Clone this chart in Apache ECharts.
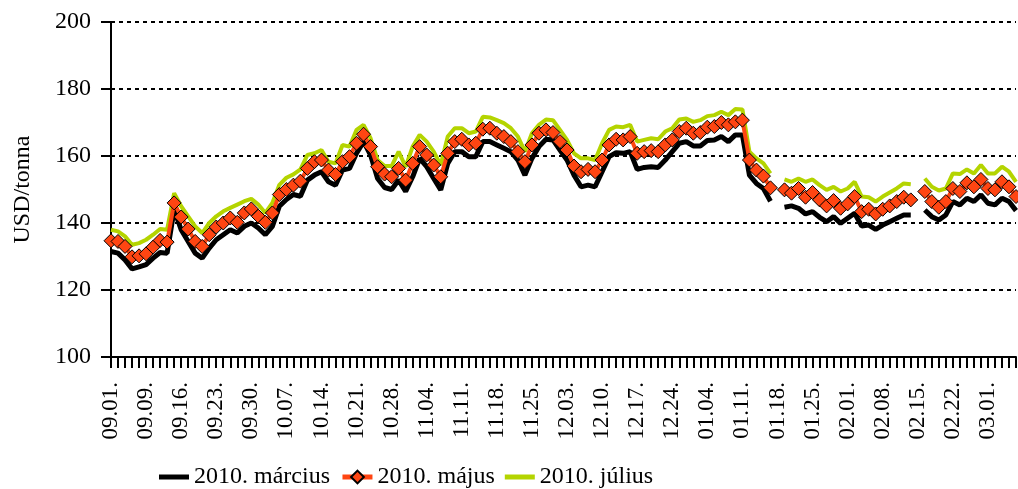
<!DOCTYPE html>
<html>
<head>
<meta charset="utf-8">
<script src="https://cdn.jsdelivr.net/npm/echarts@6/dist/echarts.min.js"></script>
<style>
html, body { margin: 0; padding: 0; background: #fff; }
#chart { width: 1018px; height: 489px; }
</style>
</head>
<body>
<div id="chart"></div>
<script>
// heti címkék (minden 5. kereskedési nap)
var weekLabels = ['09.01.', '09.09.', '09.16.', '09.23.', '09.30.', '10.07.', '10.14.', '10.21.', '10.28.',
  '11.04.', '11.11.', '11.18.', '11.25.', '12.03.', '12.10.', '12.17.', '12.24.', '01.04.', '01.11.',
  '01.18.', '01.25.', '02.01.', '02.08.', '02.15.', '02.22.', '03.01.'];

var seriesNames = ['2010. március', '2010. május', '2010. július'];

var marcius = [
  131.5, 131, 129, 126.3, 126.9, 127.6, 129.5, 131.2, 131, 144,
  138, 134.5, 131, 129.5, 132.5, 135, 136.5, 138, 137, 139,
  140, 138.5, 136.5, 139, 145, 147, 148.5, 148, 152.8, 154.3,
  155.3, 152.3, 151.3, 155.8, 156.3, 160.8, 164.3, 160.3, 153.3, 150.6,
  150, 152.8, 149.4, 153.8, 159.3, 156.8, 153.3, 149.9, 157.8, 161.3,
  161.3, 159.8, 159.8, 164.3, 164.3, 163.3, 162.3, 161.3, 158.8, 154.3,
  159.3, 162.8, 165, 164.8, 161.8, 158.8, 154.3, 150.8, 151.3, 150.8,
  155.3, 159.8, 161, 160.8, 161.3, 156, 156.6, 156.8, 156.6, 158.8,
  161.3, 163.8, 164.3, 163, 163, 164.6, 164.8, 165.8, 164.3, 166.3,
  166.3, 154.3, 151.8, 150.3, 146.5, null, 144.7, 145.1, 144.4, 142.7,
  143.4, 141.7, 140.4, 141.9, 139.9, 141.4, 142.9, 139.1, 139.4, 138.1,
  139.4, 140.4, 141.4, 142.4, 142.4, null, 143.9, 141.9, 140.9, 142.4,
  146.4, 145.4, 147.4, 146.4, 148.4, 145.9, 145.4, 147.4, 146.4, 143.7
];

var majus = [
  134.7, 134.5, 133, 129.9, 130.2, 130.8, 132.8, 134.8, 134.3, 146,
  141.8, 138.2, 134.5, 133, 136.5, 138.8, 140, 141.5, 140.2, 143,
  144.2, 142, 140.2, 143, 148.5, 150, 151.3, 152.5, 156.3, 158.3,
  158.8, 155.8, 154.5, 158.3, 159.8, 163.8, 166.5, 162.8, 156.8, 154.6,
  153.8, 156.3, 152.8, 157.8, 162.8, 160.3, 157.3, 153.8, 160.8, 164.3,
  165, 163.3, 163.8, 168, 168.3, 166.8, 165.8, 164.3, 161.3, 158.3,
  163.3, 166.8, 167.8, 167, 164.3, 161.8, 157, 155.3, 156, 155.3,
  158.8, 163.3, 165, 164.8, 165.8, 160.8, 161.3, 161.6, 161.3, 163.3,
  164.8, 167.3, 168.3, 166.8, 167, 168.6, 168.8, 170, 169.3, 170.2,
  170.7, 158.8, 155.8, 154, 150.5, null, 149.9, 148.9, 150.3, 147.7,
  149.1, 146.9, 145.1, 146.7, 144.4, 145.7, 147.9, 143.4, 144.1, 142.7,
  144.1, 145.1, 146.4, 147.7, 146.9, null, 149.4, 146.4, 144.7, 146.4,
  150.3, 149.4, 152, 150.8, 153, 150.3, 149.9, 152.3, 150.8, 147.9
];

var julius = [
  138, 137.5, 136, 133.5, 134, 135, 136.5, 138.2, 138, 148.9,
  145, 142, 139, 137, 140, 142, 143.5, 144.5, 145.5, 146.5,
  147.2, 145.5, 143, 146, 151.4, 153.5, 154.5, 156, 160.3, 160.8,
  161.8, 158.3, 157.8, 163.3, 162.8, 167.8, 169.3, 165.3, 158.8, 157,
  157, 161.3, 156.8, 162.8, 166.3, 164.3, 161.3, 157.3, 165.8, 168.3,
  168.3, 166.8, 167.3, 171.7, 171.5, 170.7, 169.8, 168.3, 165.8, 161.3,
  166.8, 169.3, 170.9, 170.7, 167.8, 164.8, 160.8, 159.3, 159.3, 158.8,
  163.8, 167.8, 168.8, 168.6, 169.3, 164.3, 164.8, 165.3, 165, 167.3,
  168.3, 170.9, 171.2, 170.2, 170.7, 171.9, 172.2, 173.2, 172.2, 174,
  173.9, 161.3, 159.3, 157.8, 154.8, null, 153, 152.3, 153.3, 152.3,
  153, 151.3, 149.9, 150.8, 149.4, 150.3, 152.3, 147.9, 147.7, 146.4,
  147.9, 149.1, 150.3, 151.8, 151.6, null, 153.3, 150.8, 149.7, 150.3,
  154.8, 154.6, 156, 154.8, 157.3, 154.8, 154.8, 156.8, 155.3, 152.3
];

// kategóriák: minden nap kap egy nevet, csak az 5. napok címkéje látszik
var categories = [];
for (var i = 0; i < majus.length; i++) {
  var w = weekLabels[Math.floor(i / 5)];
  categories.push(i % 5 === 0 ? w : w + '+' + (i % 5));
}

var font = 'Liberation Serif';
var barIcon = 'path://M0,0H30V5H0Z';
var myChart = echarts.init(document.getElementById('chart'));
myChart.setOption({
  animation: false,
  textStyle: { fontFamily: font },
  grid: { left: 111, right: 2, top: 22, bottom: 132 },
  legend: {
    left: 154,
    top: 460,
    itemWidth: 30,
    itemHeight: 16,
    itemGap: 10,
    lineStyle: { width: 5 },
    textStyle: { fontFamily: font, fontSize: 24, color: '#000' },
    data: [
      { name: seriesNames[0], icon: barIcon },
      { name: seriesNames[1] },
      { name: seriesNames[2], icon: barIcon }
    ]
  },
  xAxis: {
    type: 'category',
    boundaryGap: false,
    data: categories,
    axisLine: { lineStyle: { color: '#000', width: 2 } },
    axisTick: { interval: 0, length: 11, lineStyle: { color: '#000', width: 2 } },
    axisLabel: {
      interval: 4,
      rotate: 90,
      margin: 25,
      padding: [0, 0, 8, 0],
      fontFamily: font,
      fontSize: 23,
      color: '#000',
      formatter: function (v, idx) { return idx % 5 === 0 ? weekLabels[idx / 5] : ''; }
    },
    splitLine: { show: false }
  },
  yAxis: {
    type: 'value',
    min: 100,
    max: 200,
    interval: 20,
    name: 'USD/tonna',
    nameLocation: 'middle',
    nameGap: 76,
    nameTextStyle: { fontFamily: font, fontSize: 24, color: '#000' },
    axisLine: { show: true, lineStyle: { color: '#000', width: 2 } },
    axisTick: { show: true, length: 10, lineStyle: { color: '#000', width: 2 } },
    axisLabel: { margin: 20, fontFamily: font, fontSize: 24, color: '#000' },
    splitLine: { lineStyle: { color: '#000', width: 2, type: [4, 4] } }
  },
  series: [{
    name: seriesNames[0],
    type: 'line',
    data: marcius,
    symbol: 'none',
    z: 1,
    lineStyle: { color: '#000', width: 5 },
    itemStyle: { color: '#000' }
  }, {
    name: seriesNames[1],
    type: 'line',
    data: majus,
    symbol: 'diamond',
    symbolSize: 14,
    showAllSymbol: true,
    z: 3,
    lineStyle: { color: '#FF4512', width: 4 },
    itemStyle: { color: '#FF4512', borderColor: '#000', borderWidth: 1 }
  }, {
    name: seriesNames[2],
    type: 'line',
    data: julius,
    symbol: 'none',
    z: 2,
    lineStyle: { color: '#B4D400', width: 4 },
    itemStyle: { color: '#B4D400' }
  }]
});
</script>
</body>
</html>
